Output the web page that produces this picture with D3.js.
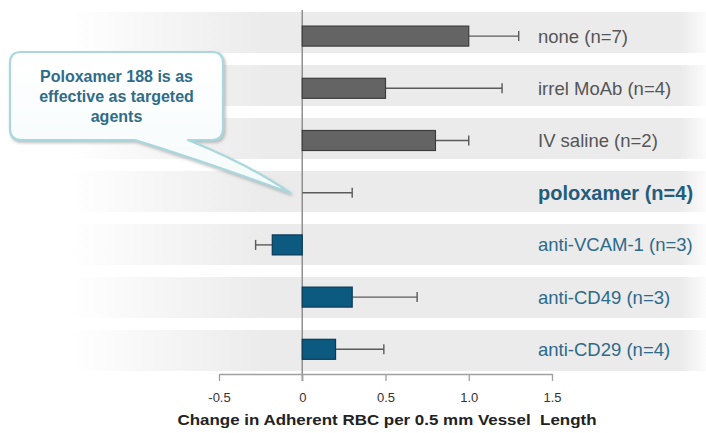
<!DOCTYPE html>
<html>
<head>
<meta charset="utf-8">
<script src="https://cdn.jsdelivr.net/npm/d3@7"></script>
<style>
  html, body { margin: 0; padding: 0; background: #ffffff; }
  svg { display: block; }
</style>
</head>
<body>
<svg id="chart" width="706" height="433"></svg>
<script>
// Treatment groups, top to bottom
const groups = ["none (n=7)", "irrel MoAb (n=4)", "IV saline (n=2)", "poloxamer (n=4)",
                "anti-VCAM-1 (n=3)", "anti-CD49 (n=3)", "anti-CD29 (n=4)"];
// Mean change in adherent RBC per 0.5 mm vessel length
const means = [1.0, 0.5, 0.8, 0.0, -0.18, 0.3, 0.2];
// Error bar extent (one-sided, away from zero)
const errors = [0.3, 0.7, 0.2, 0.3, 0.1, 0.39, 0.29];
// Group type: control (grey) vs. targeted/test (blue)
const kinds = ["control", "control", "control", "test", "test", "test", "test"];
const highlight = "poloxamer (n=4)";
const xTicks = [-0.5, 0, 0.5, 1.0, 1.5];
const xTickLabels = ["-0.5", "0", "0.5", "1.0", "1.5"];
const calloutLines = ["Poloxamer 188 is as", "effective as targeted", "agents"];
const axisTitle = "Change in Adherent RBC per 0.5 mm Vessel  Length";

const svg = d3.select("#chart");
const font = "'Liberation Sans', Arial, sans-serif";

const x = d3.scaleLinear().domain([-0.5, 1.5]).range([219, 552]);
const yBar = d3.scaleBand().domain(groups).range([10, 375.4]).padding(0);
const yStripe = d3.scaleBand().domain(groups).range([12, 383]).padding(0);

const defs = svg.append("defs");
const stripeGrad = defs.append("linearGradient")
  .attr("id", "stripeGrad").attr("gradientUnits", "userSpaceOnUse")
  .attr("x1", 0).attr("x2", 706).attr("y1", 0).attr("y2", 0);
[[0, "#ffffff"], [70, "#ffffff"], [265, "#ebebeb"], [680, "#ebebeb"], [706, "#fbfbfb"]]
  .forEach(([o, c]) => stripeGrad.append("stop").attr("offset", o / 706).attr("stop-color", c));

const shadow = defs.append("filter").attr("id", "calloutShadow")
  .attr("x", "-10%").attr("y", "-10%").attr("width", "130%").attr("height", "130%");
shadow.append("feDropShadow").attr("dx", 1.5).attr("dy", 2).attr("stdDeviation", 1.8)
  .attr("flood-color", "#8a8a8a").attr("flood-opacity", 0.55);

const calloutGrad = defs.append("linearGradient").attr("id", "calloutGrad")
  .attr("x1", 0).attr("x2", 0).attr("y1", 0).attr("y2", 1);
calloutGrad.append("stop").attr("offset", 0).attr("stop-color", "#ffffff");
calloutGrad.append("stop").attr("offset", 1).attr("stop-color", "#f4fafb");

// Row background stripes
svg.append("g").selectAll("rect").data(groups).join("rect")
  .attr("x", 0).attr("width", 706)
  .attr("y", d => yStripe(d))
  .attr("height", yStripe.step() - 12)
  .attr("fill", "url(#stripeGrad)");

// Zero reference line
svg.append("line")
  .attr("x1", x(0)).attr("x2", x(0)).attr("y1", 10).attr("y2", 381)
  .attr("stroke", "#8f8f8f").attr("stroke-width", 1.5);

// x axis
const xAxis = svg.append("g").attr("transform", "translate(0,374)")
  .call(d3.axisBottom(x).tickValues(xTicks).tickSize(7).tickSizeOuter(0)
    .tickFormat((d, i) => xTickLabels[i]));
xAxis.select(".domain").attr("stroke", "#a0a0a0").attr("stroke-width", 1.3);
xAxis.selectAll(".tick line").attr("stroke", "#a0a0a0").attr("stroke-width", 1.3);
xAxis.selectAll(".tick text")
  .attr("y", 23).attr("dy", "0.35em")
  .attr("font-family", font).attr("font-size", 13).attr("fill", "#333");

svg.append("text")
  .attr("x", 387).attr("y", 425).attr("text-anchor", "middle")
  .attr("xml:space", "preserve").style("white-space", "pre")
  .attr("font-family", font).attr("font-size", 15).attr("font-weight", "bold")
  .attr("fill", "#222")
  .attr("textLength", 419).attr("lengthAdjust", "spacingAndGlyphs")
  .text(axisTitle);

const rows = groups.map((g, i) => ({ g, v: means[i], e: errors[i], kind: kinds[i] }));
const barH = 20;
const cy = d => yBar(d.g) + yBar.bandwidth() / 2;

// Error bars (drawn beneath the bars)
const eb = svg.append("g").selectAll("g").data(rows).join("g");
eb.append("line")
  .attr("x1", d => x(d.v)).attr("x2", d => x(d.v + Math.sign(d.v || 1) * d.e))
  .attr("y1", cy).attr("y2", cy)
  .attr("stroke", "#5a5a5a").attr("stroke-width", 1.4);
eb.append("line")
  .attr("x1", d => x(d.v + Math.sign(d.v || 1) * d.e))
  .attr("x2", d => x(d.v + Math.sign(d.v || 1) * d.e))
  .attr("y1", d => cy(d) - 5).attr("y2", d => cy(d) + 5)
  .attr("stroke", "#5a5a5a").attr("stroke-width", 1.4);

// Bars
svg.append("g").selectAll("rect").data(rows.filter(d => d.v !== 0)).join("rect")
  .attr("x", d => x(Math.min(0, d.v)))
  .attr("width", d => Math.abs(x(d.v) - x(0)))
  .attr("y", d => cy(d) - barH / 2)
  .attr("height", barH)
  .attr("fill", d => d.kind === "control" ? "#646464" : "#0d5a80")
  .attr("stroke", d => d.kind === "control" ? "#3c3c3c" : "#0a3a55")
  .attr("stroke-width", 1.2);

// Group labels
svg.append("g").selectAll("text").data(rows).join("text")
  .attr("x", 538).attr("y", cy).attr("dy", "0.35em")
  .attr("font-family", font)
  .attr("font-size", d => d.g === highlight ? 20 : 18.5)
  .attr("font-weight", d => d.g === highlight ? "bold" : "normal")
  .attr("fill", d => d.g === highlight ? "#245c7c" : (d.kind === "control" ? "#555555" : "#2c6a8b"))
  .text(d => d.g);

// Callout bubble pointing at the poloxamer row
const bx0 = 10, bx1 = 223, by0 = 52, by1 = 140, r = 11;
const tip = [290, yBar(highlight) + yBar.bandwidth() / 2];
const tailL = 135, tailR = 188;
const bubble = d3.path();
bubble.moveTo(bx0 + r, by0);
bubble.lineTo(bx1 - r, by0);
bubble.quadraticCurveTo(bx1, by0, bx1, by0 + r);
bubble.lineTo(bx1, by1 - r);
bubble.quadraticCurveTo(bx1, by1, bx1 - r, by1);
bubble.lineTo(tailR, by1);
bubble.quadraticCurveTo(250, 165, tip[0], tip[1]);
bubble.quadraticCurveTo(200, 160, tailL, by1);
bubble.lineTo(bx0 + r, by1);
bubble.quadraticCurveTo(bx0, by1, bx0, by1 - r);
bubble.lineTo(bx0, by0 + r);
bubble.quadraticCurveTo(bx0, by0, bx0 + r, by0);
bubble.closePath();

svg.append("path")
  .attr("d", bubble.toString())
  .attr("fill", "url(#calloutGrad)")
  .attr("stroke", "#a9d7de").attr("stroke-width", 2.2)
  .attr("stroke-linejoin", "round")
  .attr("filter", "url(#calloutShadow)");

svg.append("g").selectAll("text").data(calloutLines).join("text")
  .attr("x", (bx0 + bx1) / 2).attr("y", (d, i) => 82 + i * 20)
  .attr("text-anchor", "middle")
  .attr("font-family", font).attr("font-size", 16).attr("font-weight", "bold")
  .attr("fill", "#2e6c89")
  .text(d => d);
</script>
</body>
</html>
